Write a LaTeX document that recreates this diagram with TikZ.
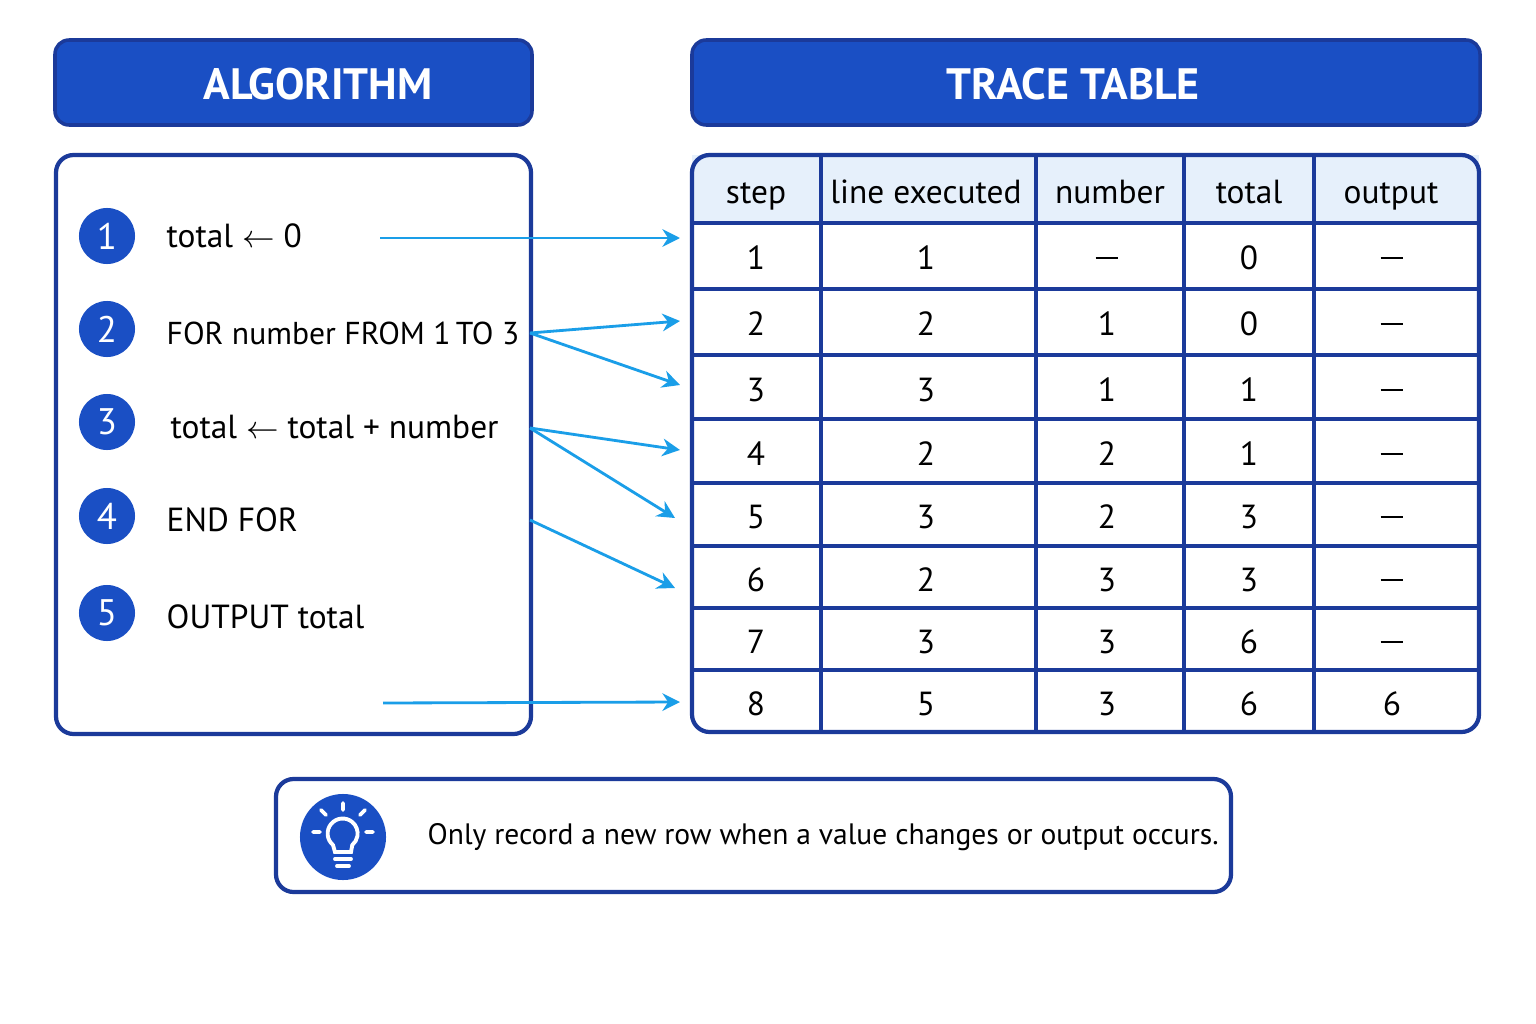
\documentclass[tikz,border=0pt]{standalone}
\usepackage{fontspec}
\setmainfont{PT Sans}
\usetikzlibrary{arrows.meta,positioning}
\definecolor{hdblue}{HTML}{1A4FC4}
\definecolor{edgeblue}{HTML}{1B3A9A}
\definecolor{arrblue}{HTML}{1A9EE8}
\definecolor{headfill}{HTML}{E6F0FB}
\newcommand{\nodash}{\rule[3pt]{6.5pt}{0.5pt}}
\tikzset{
  header/.style={draw=edgeblue,line width=1pt,fill=hdblue,rounded corners=4pt},
  panel/.style={draw=edgeblue,line width=1.2pt,fill=white,rounded corners=5pt},
  num/.style={circle,fill=hdblue,text=white,minimum size=0.56cm,inner sep=0pt,font=\fontsize{10.5}{12}\selectfont},
  code/.style={anchor=west,inner sep=0pt,font=\fontsize{9.5}{11}\selectfont},
  cell/.style={inner sep=0pt,text height=7pt,text depth=0pt,font=\fontsize{9.5}{11}\selectfont},
  flow/.style={-{Stealth[length=5pt,width=5pt]},arrblue,line width=0.8pt}
}
\begin{document}
\begin{tikzpicture}[x=0.01cm,y=-0.01cm]
\useasboundingbox[fill=white] (0,0) rectangle (1536,1024);
% headers
\draw[header] (55,40) rectangle (532,125);
\node[text=white,font=\bfseries\fontsize{12.5}{14}\selectfont] (alghd) at (318,84) {ALGORITHM};
\draw[header] (692,40) rectangle (1480,125);
\node[text=white,font=\bfseries\fontsize{12.5}{14}\selectfont] (trhd) at (1073,84) {TRACE TABLE};
% algorithm
\draw[panel] (56,155) rectangle (531,734);
\node[num] (n1) at (107,236) {1};
\node[num] (n2) at (107,329) {2};
\node[num] (n3) at (107,422) {3};
\node[num] (n4) at (107,516) {4};
\node[num] (n5) at (107,613) {5};
\node[code] (l1) at (166,236) {total $\leftarrow$ 0};
\node[code,font=\fontsize{9}{11}\selectfont] (l2) at (166,333) {FOR number FROM 1\,TO 3};
\node[code] (l3) at (170,427) {total $\leftarrow$ total + number};
\node[code] (l4) at (166,520) {END FOR};
\node[code] (l5) at (166,617) {OUTPUT total};
% table
\fill[headfill] (692,155) rectangle (1479,223);
\foreach \y in {223,289,355,419,483,546,608,670}
  \draw[edgeblue,line width=0.9pt] (692,\y) -- (1479,\y);
\foreach \x in {821,1036,1184,1314}
  \draw[edgeblue,line width=0.9pt] (\x,155) -- (\x,732);
\draw[edgeblue,line width=1.2pt,rounded corners=5pt] (692,155) rectangle (1479,732);
\foreach \t [count=\i] in {step,line executed,number,total,output}
  \node[cell] (h\i) at ({\ifcase\i\or756\or926\or1110\or1249\or1391\fi},191) {\t};
\foreach \s/\l/\n/\t/\o [count=\r] in {1/1/\nodash/0/\nodash,2/2/1/0/\nodash,3/3/1/1/\nodash,4/2/2/1/\nodash,5/3/2/3/\nodash,6/2/3/3/\nodash,7/3/3/6/\nodash,8/5/3/6/6}{
  \pgfmathsetmacro{\yy}{{0,257,323,389,453,516,579,641,703}[\r]}
  \node[cell] (s\r) at (756,\yy) {\s};
  \node[cell] (e\r) at (926,\yy) {\l};
  \node[cell] (v\r) at (1107,\yy) {\n};
  \node[cell] (t\r) at (1249,\yy) {\t};
  \node[cell] (o\r) at (1392,\yy) {\o};
}
% connectors
\coordinate (a1) at (380,238); \coordinate (b1) at (680,238);
\coordinate (a2) at (530,333); \coordinate (b2) at (680,321); \coordinate (b3) at (680,385);
\coordinate (a3) at (530,428); \coordinate (b4) at (680,450); \coordinate (b5) at (675,518);
\coordinate (a4) at (530,520); \coordinate (b6) at (675,588);
\coordinate (a5) at (383,703); \coordinate (b8) at (680,702);
\draw[flow] (a1) -- (b1);
\draw[flow] (a2) -- (b2);
\draw[flow] (a2) -- (b3);
\draw[flow] (a3) -- (b4);
\draw[flow] (a3) -- (b5);
\draw[flow] (a4) -- (b6);
\draw[flow] (a5) -- (b8);
% tip
\draw[panel] (276,779) rectangle (1231,892);
\node[circle,fill=hdblue,minimum size=0.86cm] (bulb) at (343,837) {};
\draw[white,line width=1.1pt] (333,845) arc[start angle=130,end angle=410,radius=15] -- (351,852) -- (335,852) -- cycle;
\draw[white,line width=1.1pt,line cap=round] (335,859) -- (351,859) (337,866) -- (349,866);
\draw[white,line width=1.1pt,line cap=round] (343,803) -- (343,810) (320,832) -- (313,832) (366,832) -- (373,832)
  (326,815) -- (321,810) (360,815) -- (365,810);
\node[code,font=\fontsize{8.4}{10}\selectfont] (tip) at (427,837) {Only record a new row when a value changes or output occurs.};
\end{tikzpicture}
\end{document}
